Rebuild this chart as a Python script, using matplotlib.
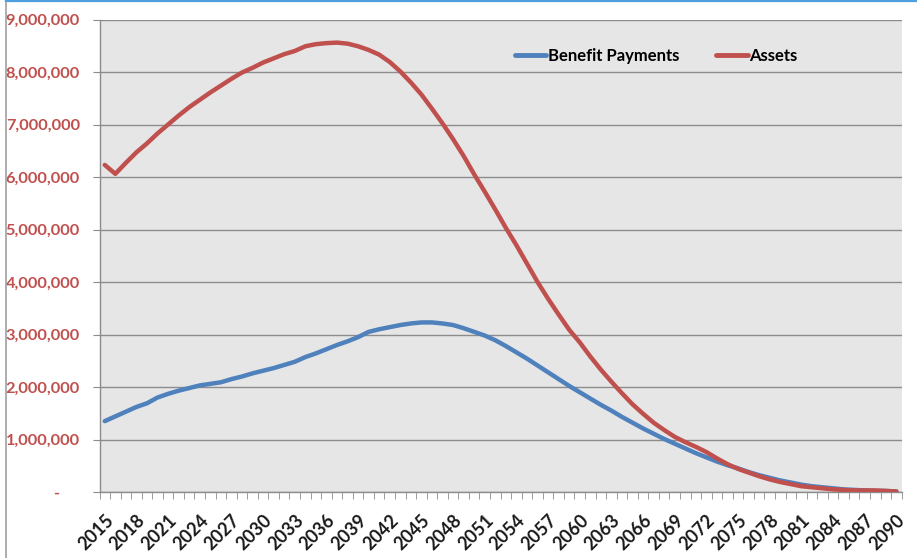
import matplotlib
matplotlib.use("Agg")
import matplotlib.pyplot as plt
from matplotlib.lines import Line2D
from matplotlib.ticker import FuncFormatter, FixedLocator

years = list(range(2015, 2091))

benefit_payments = [
    1.35, 1.44, 1.53, 1.62, 1.69, 1.80, 1.87, 1.93, 1.98, 2.03,
    2.06, 2.09, 2.15, 2.20, 2.26, 2.31, 2.36, 2.42, 2.48, 2.57,
    2.64, 2.72, 2.80, 2.87, 2.95, 3.05, 3.10, 3.14, 3.18, 3.21,
    3.23, 3.23, 3.21, 3.18, 3.12, 3.05, 2.98, 2.89, 2.78, 2.66,
    2.54, 2.41, 2.28, 2.15, 2.02, 1.90, 1.78, 1.66, 1.55, 1.43,
    1.32, 1.21, 1.11, 1.01, 0.92, 0.83, 0.74, 0.66, 0.58, 0.51,
    0.45, 0.38, 0.32, 0.27, 0.22, 0.18, 0.14, 0.11, 0.09, 0.07,
    0.05, 0.04, 0.03, 0.02, 0.02, 0.01,
]

assets = [
    6.23, 6.06, 6.27, 6.47, 6.64, 6.83, 7.00, 7.17, 7.33, 7.47,
    7.61, 7.74, 7.87, 7.99, 8.08, 8.18, 8.26, 8.34, 8.40, 8.49,
    8.53, 8.55, 8.56, 8.54, 8.49, 8.42, 8.33, 8.19, 8.01, 7.80,
    7.57, 7.30, 7.02, 6.72, 6.40, 6.05, 5.72, 5.38, 5.03, 4.70,
    4.35, 4.00, 3.68, 3.38, 3.09, 2.85, 2.58, 2.33, 2.10, 1.88,
    1.67, 1.49, 1.32, 1.18, 1.05, 0.95, 0.86, 0.76, 0.64, 0.53,
    0.44, 0.37, 0.30, 0.24, 0.19, 0.15, 0.11, 0.09, 0.07, 0.05,
    0.04, 0.03, 0.03, 0.03, 0.02, 0.01,
]

series_names = ["Benefit Payments", "Assets"]
y_ticks = [0, 1e6, 2e6, 3e6, 4e6, 5e6, 6e6, 7e6, 8e6, 9e6]

BLUE = "#4F81BD"
RED = "#C0504D"
FONT = ["Lato", "DejaVu Sans"]
plt.rcParams["font.family"] = FONT
plt.rcParams["font.weight"] = "bold"

W, H = 917, 558
fig = plt.figure(figsize=(W / 100, H / 100), dpi=100)
fig.patch.set_facecolor("white")

left, right, top, bottom = 99.5, 901.7, 19.5, 492.0
ax = fig.add_axes([left / W, 1 - bottom / H, (right - left) / W, (bottom - top) / H])
ax.set_facecolor("#E6E6E6")

x = list(range(len(years)))
bp = [v * 1e6 for v in benefit_payments]
asv = [v * 1e6 for v in assets]
ax.plot(x, bp, color=BLUE, lw=3.2, solid_capstyle="round", solid_joinstyle="round",
        label=series_names[0], zorder=3)
ax.plot(x, asv, color=RED, lw=3.2, solid_capstyle="round", solid_joinstyle="round",
        label=series_names[1], zorder=4)

ax.set_xlim(-0.5, len(years) - 0.5)
ax.set_ylim(0, 9e6)

ax.yaxis.set_major_locator(FixedLocator(y_ticks))
ax.yaxis.set_major_formatter(FuncFormatter(lambda v, p: "-     " if v == 0 else f"{int(v):,}"))
ax.grid(axis="y", color="#8C8C8C", lw=1.0, zorder=1)
ax.set_axisbelow(True)

label_idx = list(range(0, len(years), 3))
ax.xaxis.set_major_locator(FixedLocator(label_idx))
ax.xaxis.set_major_formatter(FuncFormatter(lambda v, p: str(years[int(round(v))])))
ax.xaxis.set_minor_locator(FixedLocator([i - 0.5 for i in range(len(years) + 1)]))
ax.tick_params(axis="x", which="major", length=0, pad=14, labelsize=13, labelcolor="#1a1a1a",
               labelrotation=45)
ax.tick_params(axis="x", which="minor", length=5, color="#8C8C8C", direction="out")
ax.tick_params(axis="y", which="major", length=5, color="#8C8C8C", direction="out", pad=9,
               labelsize=11.8, labelcolor=RED)

for lbl in ax.get_xticklabels():
    lbl.set_ha("right")
    lbl.set_va("top")
    lbl.set_rotation_mode("anchor")

for s in ["top", "right"]:
    ax.spines[s].set_visible(False)
for s in ["left", "bottom"]:
    ax.spines[s].set_color("#8C8C8C")
    ax.spines[s].set_linewidth(1.0)

leg = ax.legend(loc="upper left", bbox_to_anchor=((508 - left) / (right - left), 1 - (41 - top) / (bottom - top)),
                ncol=2, frameon=False, handlelength=1.9, handletextpad=0.1, columnspacing=2.2,
                prop={"family": FONT, "weight": "bold", "size": 12}, borderaxespad=0)
for h in leg.get_lines():
    h.set_linewidth(3.5)

# chart frame
fig.add_artist(Line2D([5.5 / W, 5.5 / W], [0, 1], transform=fig.transFigure, color="#A0A0A0", lw=1.2))
fig.add_artist(Line2D([5.5 / W, 1], [1 - 0.8 / H, 1 - 0.8 / H], transform=fig.transFigure, color="#4F9FDF", lw=1.6))

fig.savefig("out.png", dpi=100)
